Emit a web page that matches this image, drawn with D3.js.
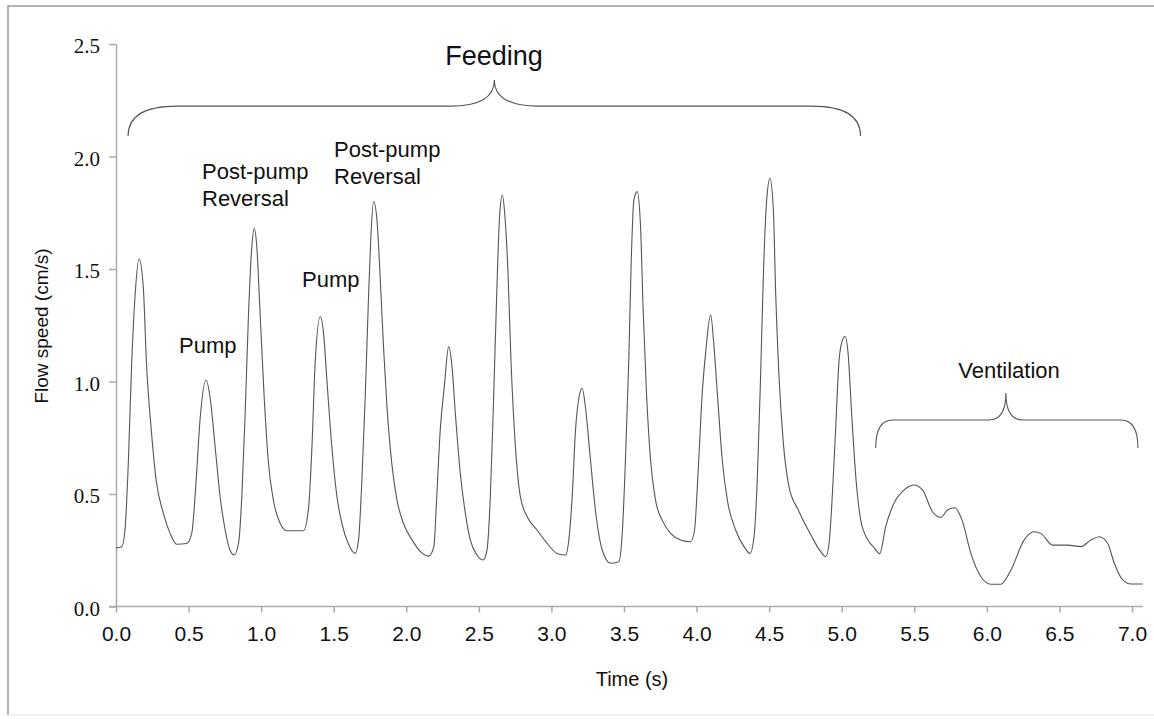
<!DOCTYPE html>
<html>
<head>
<meta charset="utf-8">
<script src="https://cdn.jsdelivr.net/npm/d3@7"></script>
<style>
  body { margin: 0; background: #fff; }
  text { font-family: "Liberation Sans", Arial, Helvetica, sans-serif; fill: #111; }
  .y-axis text { font-family: "Liberation Serif", "Times New Roman", serif; }
</style>
</head>
<body>
<svg id="chart" width="1154" height="719"></svg>
<script>
// time (s) and flow speed (cm/s)
const times = [
  0.00, 0.04, 0.062, 0.085, 0.108, 0.131, 0.159, 0.188, 0.21, 0.243, 0.277, 0.326, 0.372, 0.418,
  0.487, 0.522, 0.552, 0.579, 0.621, 0.648, 0.683, 0.717, 0.752, 0.786, 0.814, 0.844, 0.867, 0.89,
  0.913, 0.936, 0.952, 0.97, 0.993, 1.021, 1.05, 1.085, 1.131, 1.177, 1.292, 1.327, 1.35, 1.372,
  1.407, 1.43, 1.453, 1.487, 1.522, 1.56, 1.60, 1.648, 1.671, 1.694, 1.717, 1.74, 1.756, 1.775,
  1.798, 1.821, 1.843, 1.867, 1.90, 1.936, 1.98, 2.04, 2.097, 2.155, 2.19, 2.21, 2.234, 2.262,
  2.292, 2.315, 2.338, 2.372, 2.407, 2.441, 2.487, 2.529, 2.556, 2.579, 2.602, 2.626, 2.644, 2.662,
  2.678, 2.701, 2.722, 2.752, 2.786, 2.832, 2.901, 2.97, 3.039, 3.097, 3.12, 3.143, 3.166, 3.19,
  3.212, 3.234, 3.269, 3.303, 3.35, 3.407, 3.464, 3.488, 3.51, 3.533, 3.55, 3.568, 3.591, 3.614,
  3.632, 3.655, 3.683, 3.717, 3.763, 3.821, 3.89, 3.959, 3.986, 4.009, 4.039, 4.062, 4.097, 4.12,
  4.143, 4.177, 4.212, 4.269, 4.327, 4.368, 4.396, 4.419, 4.441, 4.46, 4.483, 4.506, 4.529, 4.545,
  4.568, 4.598, 4.637, 4.70, 4.786, 4.855, 4.89, 4.913, 4.936, 4.959, 4.982, 5.005, 5.023, 5.044,
  5.067, 5.097, 5.131, 5.177, 5.223, 5.262, 5.303, 5.36, 5.43, 5.499, 5.557, 5.625, 5.683, 5.729,
  5.779, 5.829, 5.89, 5.959, 6.028, 6.097, 6.166, 6.257, 6.326, 6.372, 6.453, 6.556, 6.648, 6.717,
  6.774, 6.832, 6.878, 6.936, 6.993, 7.074
];
const speeds = [
  0.26, 0.266, 0.34, 0.64, 1.08, 1.377, 1.544, 1.42, 1.08, 0.785, 0.56, 0.415, 0.326, 0.277,
  0.28, 0.326, 0.56, 0.83, 1.007, 0.93, 0.71, 0.49, 0.34, 0.25, 0.229, 0.28, 0.49, 0.86,
  1.30, 1.60, 1.68, 1.60, 1.30, 0.93, 0.64, 0.47, 0.37, 0.337, 0.337, 0.44, 0.71, 1.08,
  1.288, 1.215, 1.007, 0.71, 0.49, 0.36, 0.28, 0.236, 0.296, 0.56, 0.93, 1.377, 1.644, 1.80,
  1.718, 1.45, 1.155, 0.888, 0.636, 0.473, 0.37, 0.296, 0.244, 0.224, 0.266, 0.49, 0.785, 0.977,
  1.155, 1.066, 0.859, 0.592, 0.414, 0.296, 0.229, 0.207, 0.251, 0.488, 0.932, 1.451, 1.748, 1.829,
  1.748, 1.48, 1.081, 0.71, 0.488, 0.40, 0.34, 0.281, 0.236, 0.229, 0.296, 0.488, 0.785, 0.93,
  0.97, 0.888, 0.651, 0.429, 0.251, 0.192, 0.199, 0.325, 0.651, 1.096, 1.54, 1.807, 1.844, 1.688,
  1.318, 0.948, 0.651, 0.473, 0.384, 0.325, 0.296, 0.288, 0.34, 0.577, 0.948, 1.125, 1.296, 1.155,
  0.948, 0.651, 0.473, 0.34, 0.266, 0.236, 0.31, 0.577, 1.021, 1.466, 1.807, 1.903, 1.762, 1.392,
  1.021, 0.725, 0.532, 0.43, 0.32, 0.244, 0.222, 0.281, 0.503, 0.80, 1.096, 1.184, 1.20, 1.125,
  0.873, 0.577, 0.384, 0.30, 0.262, 0.235, 0.355, 0.459, 0.518, 0.54, 0.518, 0.421, 0.396, 0.429,
  0.439, 0.384, 0.236, 0.132, 0.099, 0.099, 0.162, 0.296, 0.332, 0.325, 0.273, 0.273, 0.266, 0.296,
  0.31, 0.281, 0.192, 0.118, 0.10, 0.10
];

const xTicks = [0, 0.5, 1, 1.5, 2, 2.5, 3, 3.5, 4, 4.5, 5, 5.5, 6, 6.5, 7];
const yTicks = [0, 0.5, 1, 1.5, 2, 2.5];

const svg = d3.select("#chart");
const width = +svg.attr("width");
const height = +svg.attr("height");

const xScale = d3.scaleLinear().domain([0, 7]).range([116, 1132]);
const yScale = d3.scaleLinear().domain([0, 2.5]).range([606.5, 44]);

// outer frame
svg.append("path")
  .attr("d", `M8,715 L8,6 L${width},6`)
  .attr("fill", "none")
  .attr("stroke", "#9a9a9a")
  .attr("stroke-width", 1.5);
svg.append("line")
  .attr("x1", 8).attr("x2", width).attr("y1", 715).attr("y2", 715)
  .attr("stroke", "#e4e4e4");

const xAxis = d3.axisBottom(xScale)
  .tickValues(xTicks)
  .tickFormat(d3.format(".1f"))
  .tickSize(6)
  .tickSizeOuter(0)
  .tickPadding(14);

const yAxis = d3.axisLeft(yScale)
  .tickValues(yTicks)
  .tickFormat(d3.format(".1f"))
  .tickSize(7)
  .tickSizeOuter(0)
  .tickPadding(9);

const gx = svg.append("g")
  .attr("class", "x-axis")
  .attr("transform", `translate(0, ${yScale(0)})`)
  .call(xAxis);

const gy = svg.append("g")
  .attr("class", "y-axis")
  .attr("transform", `translate(${xScale(0)}, 0)`)
  .call(yAxis);

// axis line runs a little past 7.0 like the original
gx.select(".domain").attr("d", `M${xScale(0) - 7},0H${xScale(7) + 11}`);
gx.selectAll("path, line").attr("stroke", "#aaa").attr("stroke-width", 1.5);
gy.selectAll("path, line").attr("stroke", "#aaa").attr("stroke-width", 1.5);
gx.selectAll("text").attr("font-size", 21).attr("fill", "#111");
gy.selectAll("text").attr("font-size", 21).attr("fill", "#111").attr("dy", "0.42em");

svg.append("text")
  .attr("x", 632)
  .attr("y", 686)
  .attr("text-anchor", "middle")
  .attr("font-size", 20)
  .text("Time (s)");

svg.append("text")
  .attr("transform", "translate(48, 326) rotate(-90)")
  .attr("text-anchor", "middle")
  .attr("font-size", 19)
  .text("Flow speed (cm/s)");

// the trace
const line = d3.line()
  .x(d => xScale(d[0]))
  .y(d => yScale(d[1]))
  .curve(d3.curveMonotoneX);

svg.append("path")
  .datum(d3.zip(times, speeds))
  .attr("d", line)
  .attr("fill", "none")
  .attr("stroke", "#555")
  .attr("stroke-width", 1.1);

// braces over the feeding and ventilation phases
function brace(x0, x1, xm, yEnd, yBar, yTip, endW, tipW) {
  const X0 = xScale(x0), X1 = xScale(x1), XM = xScale(xm);
  const Ye = yScale(yEnd), Yb = yScale(yBar), Yt = yScale(yTip);
  return `M${X0},${Ye} Q${X0},${Yb} ${X0 + endW},${Yb} L${XM - tipW},${Yb}` +
    ` Q${XM},${Yb} ${XM},${Yt} Q${XM},${Yb} ${XM + tipW},${Yb}` +
    ` L${X1 - endW},${Yb} Q${X1},${Yb} ${X1},${Ye}`;
}

svg.append("path")
  .attr("d", brace(0.083, 5.13, 2.607, 2.091, 2.224, 2.34, 49, 44))
  .attr("fill", "none")
  .attr("stroke", "#555")
  .attr("stroke-width", 1.1);

svg.append("path")
  .attr("d", brace(5.234, 7.041, 6.131, 0.704, 0.829, 0.949, 17, 17))
  .attr("fill", "none")
  .attr("stroke", "#555")
  .attr("stroke-width", 1.1);

// labels
svg.append("text")
  .attr("x", 494).attr("y", 65)
  .attr("text-anchor", "middle")
  .attr("font-size", 27)
  .text("Feeding");

svg.append("text")
  .attr("x", 1009).attr("y", 378)
  .attr("text-anchor", "middle")
  .attr("font-size", 22)
  .text("Ventilation");

const notes = [
  { x: 202, y: 179, lines: ["Post-pump", "Reversal"] },
  { x: 334, y: 157, lines: ["Post-pump", "Reversal"] },
  { x: 179, y: 353, lines: ["Pump"] },
  { x: 302, y: 287, lines: ["Pump"] }
];

notes.forEach(n => {
  const t = svg.append("text")
    .attr("x", n.x)
    .attr("y", n.y)
    .attr("font-size", 22);
  n.lines.forEach((s, i) => {
    t.append("tspan")
      .attr("x", n.x)
      .attr("dy", i === 0 ? 0 : 27)
      .text(s);
  });
});
</script>
</body>
</html>
